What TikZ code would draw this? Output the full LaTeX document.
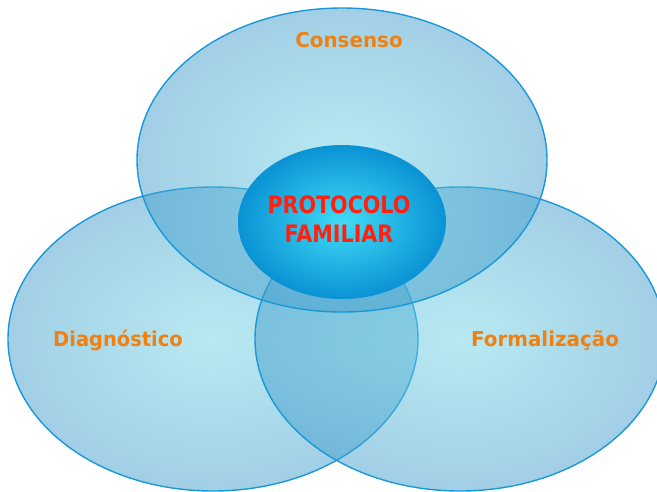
\documentclass[tikz,border=0pt]{standalone}
\usepackage{fontspec}
\setmainfont{DejaVu Sans}
\usetikzlibrary{shapes.geometric}
\definecolor{edgeblue}{RGB}{24,152,216}
\definecolor{cin}{RGB}{113,213,229}
\definecolor{cout}{RGB}{69,159,205}
\definecolor{coreIn}{RGB}{64,220,246}
\definecolor{coreOut}{RGB}{10,146,212}
\definecolor{lblorange}{RGB}{240,128,16}
\definecolor{corered}{RGB}{255,32,16}
\begin{document}
\begin{tikzpicture}[x=1pt,y=-1pt]
\useasboundingbox (0,0) rectangle (657,491);
\tikzset{
  circ/.style={ellipse, minimum width=410pt, minimum height=304pt, inner sep=0pt,
    draw=edgeblue, line width=1.4pt, inner color=cin, outer color=cout,
    fill opacity=0.5, draw opacity=1},
  core/.style={ellipse, minimum width=208pt, minimum height=154pt, inner sep=0pt,
    inner color=coreIn, outer color=coreOut},
  lbl/.style={text=lblorange, anchor=base, font=\fontsize{20.5}{24}\selectfont\bfseries},
  corelbl/.style={text=corered, anchor=base, font=\fontsize{24}{28}\selectfont\bfseries},
}
\node[circ] (diag) at (213,339) {};
\node[circ] (form) at (460,339) {};
\node[circ] (cons) at (342,160) {};
\node[core] (core) at (342,222) {};
\node[lbl] (tcons) at (349,47) {\scalebox{0.97}[1]{Consenso}};
\node[lbl] (tdiag) at (118,346) {\scalebox{0.95}[1]{Diagnóstico}};
\node[lbl] (tform) at (545,346) {\scalebox{0.97}[1]{Formalização}};
\node[corelbl] (tprot) at (339,213) {\scalebox{0.86}[1]{PROTOCOLO}};
\node[corelbl] (tfam) at (339,242) {\scalebox{0.86}[1]{FAMILIAR}};
\end{tikzpicture}
\end{document}
